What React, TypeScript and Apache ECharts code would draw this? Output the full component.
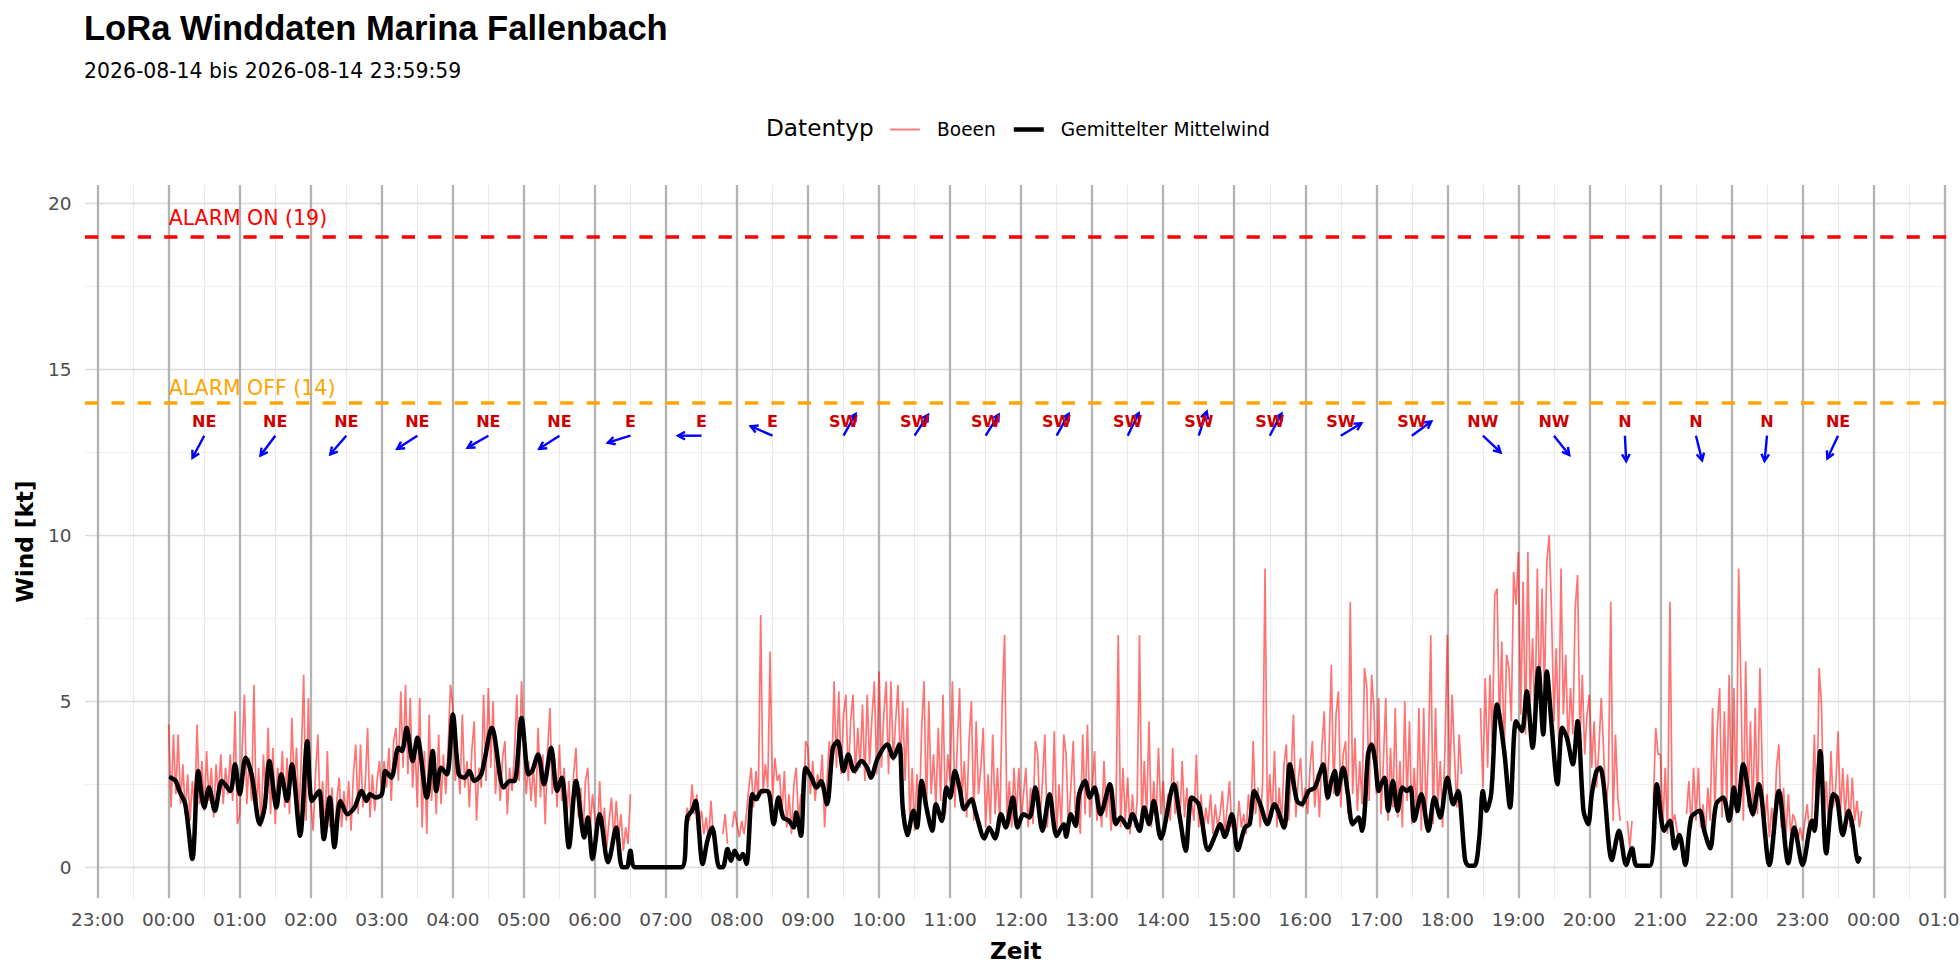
import React, { useEffect, useRef } from "react";
import * as echarts from "echarts";

const FONT = "DejaVu Sans";
const TITLE_FONT = "Liberation Sans";

const TITLE = "LoRa Winddaten Marina Fallenbach";
const SUBTITLE = "2026-08-14 bis 2026-08-14 23:59:59";
const LEGEND_TITLE = "Datentyp";
const GUST_NAME = "Boeen";
const MEAN_NAME = "Gemittelter Mittelwind";
const X_NAME = "Zeit";
const Y_NAME = "Wind [kt]";

// axis extents (minutes since 2026-08-14 00:00, knots)
const X_MIN = -70.7;
const X_MAX = 1501.6;
const Y_MIN = -0.934;
const Y_MAX = 20.551;

// x ticks (minutes) and labels
const xTickMin = [-60, 0, 60, 120, 180, 240, 300, 360, 420, 480, 540, 600, 660, 720, 780, 840, 900, 960, 1020, 1080, 1140, 1200, 1260, 1320, 1380, 1440, 1500];
const xTickLabels = ["23:00", "00:00", "01:00", "02:00", "03:00", "04:00", "05:00", "06:00", "07:00", "08:00", "09:00", "10:00", "11:00", "12:00", "13:00", "14:00", "15:00", "16:00", "17:00", "18:00", "19:00", "20:00", "21:00", "22:00", "23:00", "00:00", "01:00"];
const xMinorMin = [-30, 30, 90, 150, 210, 270, 330, 390, 450, 510, 570, 630, 690, 750, 810, 870, 930, 990, 1050, 1110, 1170, 1230, 1290, 1350, 1410, 1470];
const yTicksKt = [0, 5, 10, 15, 20];
const yMinorKt = [2.5, 7.5, 12.5, 17.5];

// alarm thresholds
const alarmLevels = [19, 14];
const alarmLabels = ["ALARM ON (19)", "ALARM OFF (14)"];
const alarmColors = ["#FF0000", "#FFA500"];
const alarmTextKt = [19.56, 14.44];
const alarmTextMin = [0, 0];

// wind direction annotations
const dirTimes = [30, 90, 150, 210, 270, 330, 390, 450, 510, 570, 630, 690, 750, 810, 870, 930, 990, 1050, 1110, 1170, 1230, 1290, 1350, 1410];
const dirLabels = ["NE", "NE", "NE", "NE", "NE", "NE", "E", "E", "E", "SW", "SW", "SW", "SW", "SW", "SW", "SW", "SW", "SW", "NW", "NW", "N", "N", "N", "NE"];
const dirFromDeg = [30, 39, 43, 59, 62, 59, 74, 90, 112, 211, 215, 214, 211, 208, 200, 210, 241, 236, 311, 319, 357, 345, 6, 27];
const DIR_LABEL_KT = 13.42;
const DIR_ARROW_KT = 13.0;

// gusts, 2-minute samples per hour
const GUST_STEP = 2;
const gust00 = [4.3, 1.8, 4.0, 2.2, 4.0, 1.9, 3.1, 1.6, 2.8, 1.4, 2.6, 1.7, 4.3, 1.9, 3.2, 1.7, 3.5, 2.0, 3.0, 1.5, 3.1, 2.1, 3.4, 1.9, 3.0, 2.2, 3.4, 2.0, 4.7, 1.3];
const gust01 = [1.6, 3.5, 5.2, 1.9, 3.3, 2.0, 5.5, 1.5, 3.0, 1.2, 3.4, 2.0, 4.2, 1.6, 3.6, 1.3, 3.0, 2.2, 3.5, 1.8, 3.3, 1.6, 4.5, 2.4, 3.6, 1.5, 3.3, 5.8, 1.4, 5.1];
const gust02 = [2.0, 1.1, 2.8, 4.0, 1.5, 2.6, 1.0, 3.5, 1.2, 2.4, 0.8, 2.0, 2.7, 1.2, 2.3, 1.4, 2.6, 1.1, 2.8, 3.7, 1.6, 3.7, 1.8, 2.5, 4.2, 1.5, 2.8, 1.7, 2.6, 3.2];
const gust03 = [2.1, 3.2, 2.4, 3.6, 2.0, 3.8, 4.2, 2.6, 5.3, 3.0, 5.5, 2.8, 5.1, 2.4, 3.8, 1.8, 5.1, 1.2, 3.5, 1.0, 4.6, 2.0, 3.4, 1.6, 4.0, 1.9, 3.4, 2.2, 3.6, 5.5];
const gust04 = [4.8, 2.6, 3.4, 2.2, 4.6, 2.4, 3.2, 1.8, 3.5, 4.4, 1.4, 3.0, 2.4, 5.2, 2.6, 5.4, 3.0, 5.0, 2.2, 3.4, 2.0, 3.3, 3.8, 1.6, 3.0, 2.3, 3.4, 5.2, 2.6, 5.6];
const gust05 = [3.6, 2.2, 3.2, 2.0, 3.0, 1.8, 4.2, 2.1, 3.4, 1.3, 3.5, 4.8, 2.2, 3.3, 1.8, 3.7, 2.0, 3.0, 1.4, 2.6, 1.2, 2.8, 3.6, 1.5, 2.4, 1.0, 2.6, 3.0, 1.2, 2.2];
const gust06 = [1.5, 0.8, 2.6, 1.0, 1.8, 0.6, 1.4, 2.1, 0.8, 2.0, 0.9, 1.6, 0.5, 1.2, 0.7, 2.2, null, null, null, null, null, null, null, null, null, null, null, null, null, null];
const gust07 = [null, null, null, null, null, null, null, null, 1.2, 1.8, 1.4, 2.5, 1.6, 2.2, 1.3, 1.7, 1.0, 1.5, 0.8, 2.0, 1.0, null, null, null, 1.0, 1.6, 0.7, null, 1.2, 1.7];
const gust08 = [1.3, 0.9, 1.4, 1.0, 1.6, 2.4, 3.0, 1.8, 2.9, 2.0, 7.6, 2.2, 3.1, 2.4, 6.5, 2.0, 3.3, 2.6, 2.8, 1.6, 2.9, 1.2, 2.2, 1.0, 2.5, 3.0, 1.4, 2.2, 1.6, 3.8];
const gust09 = [3.6, 2.2, 3.2, 2.0, 2.8, 2.4, 3.4, 1.2, 2.6, 3.8, 2.8, 5.6, 3.0, 5.3, 2.8, 4.6, 5.2, 2.6, 4.4, 5.2, 2.8, 4.2, 3.0, 4.9, 2.6, 5.2, 3.1, 4.5, 5.6, 2.8];
const gust10 = [5.9, 3.0, 4.6, 5.6, 2.8, 5.6, 3.2, 4.4, 5.5, 3.0, 5.0, 2.6, 4.8, 1.3, 3.0, 1.1, 2.8, 1.5, 4.2, 5.6, 1.6, 5.0, 2.2, 3.4, 1.8, 4.2, 2.0, 5.2, 1.6, 3.4];
const gust11 = [2.6, 5.6, 1.8, 3.6, 5.4, 2.0, 3.2, 1.5, 3.8, 5.0, 1.4, 4.4, 2.2, 3.0, 4.2, 1.2, 2.8, 1.3, 4.0, 1.6, 3.0, 1.2, 5.0, 7.0, 1.4, 2.6, 1.2, 3.0, 1.5, 3.0];
const gust12 = [1.4, 2.2, 3.0, 1.2, 2.4, 1.3, 3.8, 3.4, 1.4, 2.6, 4.0, 1.2, 2.2, 1.4, 4.1, 1.0, 2.5, 1.2, 4.0, 3.4, 1.1, 2.4, 3.8, 1.3, 2.2, 1.0, 4.0, 1.6, 4.3, 1.5];
const gust13 = [2.4, 3.5, 1.4, 2.2, 1.2, 3.2, 1.5, 2.4, 1.1, 2.0, 1.3, 7.0, 1.2, 3.0, 1.4, 2.7, 1.0, 2.2, 1.2, 2.0, 7.0, 1.3, 3.2, 1.5, 4.4, 1.2, 2.6, 1.4, 3.6, 1.6];
const gust14 = [2.6, 1.2, 2.2, 1.4, 3.6, 1.6, 2.6, 1.3, 3.2, 1.5, 2.4, 1.1, 2.0, 1.4, 3.4, 1.2, 2.2, 1.0, 1.8, 1.3, 2.2, 1.0, 1.9, 1.2, 1.6, 2.3, 1.0, 1.8, 2.6, 1.2];
const gust15 = [1.4, 1.0, 2.0, 1.2, 1.6, 1.0, 2.2, 1.4, 3.8, 1.6, 2.4, 1.2, 2.6, 9.0, 1.4, 2.8, 1.5, 3.5, 1.2, 2.4, 1.3, 3.1, 3.7, 1.4, 2.8, 4.6, 1.5, 2.6, 3.3, 1.8];
const gust16 = [2.4, 1.6, 3.0, 3.8, 1.8, 2.8, 1.5, 3.6, 4.7, 2.0, 3.4, 6.1, 2.2, 4.6, 5.3, 1.8, 3.4, 3.8, 1.6, 8.0, 2.2, 3.9, 1.7, 3.2, 1.9, 6.0, 5.4, 2.0, 5.8, 4.8];
const gust17 = [2.2, 5.1, 1.6, 3.2, 5.1, 1.4, 3.6, 1.8, 4.8, 1.5, 3.2, 1.2, 5.0, 2.0, 4.4, 1.3, 3.0, 1.5, 4.8, 1.1, 4.8, 1.6, 3.4, 7.0, 1.3, 4.8, 1.8, 3.2, 1.2, 3.6];
const gust18 = [7.0, 2.4, 5.2, 3.4, 1.8, 4.0, 2.8, null, null, null, null, null, null, null, 4.8, 2.4, 5.7, 3.0, 5.8, 3.6, 8.2, 8.4, 4.2, 6.8, 3.4, 6.4, 6.0, 4.4, 8.9, 7.9];
const gust19 = [9.5, 4.6, 8.6, 4.0, 9.5, 5.0, 6.9, 4.2, 9.0, 4.8, 8.4, 5.2, 9.2, 10.0, 7.7, 4.4, 6.6, 3.8, 9.0, 4.6, 6.4, 3.6, 5.4, 4.0, 7.8, 8.8, 3.8, 5.8, 3.4, 4.6];
const gust20 = [5.2, 3.0, 4.4, 2.4, 3.6, 5.1, 3.5, 1.8, 2.6, 8.0, 1.4, 4.0, 2.1, 1.4, null, null, 1.4, 0.6, 1.4, null, null, null, null, null, null, null, null, 2.0, 4.2, 3.4];
const gust21 = [3.4, 1.2, 3.0, 1.0, 8.0, 1.3, 1.6, 1.1, 0.8, null, null, 1.6, 2.6, 1.2, 3.0, 1.4, 3.0, 1.2, 1.9, 1.0, 2.4, 1.4, 4.8, 1.6, 4.2, 5.4, 1.5, 4.7, 1.8, 5.8];
const gust22 = [1.8, 5.4, 1.6, 9.0, 5.4, 1.4, 6.2, 1.8, 4.4, 1.5, 4.8, 1.6, 6.0, 2.9, 1.2, 2.2, 0.9, 1.8, 1.0, 3.0, 3.7, 1.2, 2.4, 0.9, 2.2, 1.0, 1.6, 1.4, 0.8, 1.2];
const gust23 = [0.8, 1.4, 1.9, 0.9, 1.6, 4.0, 1.2, 6.0, 4.9, 1.4, 2.6, 1.2, 3.5, 1.8, 2.4, 4.1, 1.6, 3.0, 1.5, 2.8, 1.2, 2.7, 1.4, 2.0, 1.2, 1.7, null, null, null, null];
const gustByHour = [gust00, gust01, gust02, gust03, gust04, gust05, gust06, gust07, gust08, gust09, gust10, gust11, gust12, gust13, gust14, gust15, gust16, gust17, gust18, gust19, gust20, gust21, gust22, gust23];

// averaged wind, [minute, kt]
const meanNight = [[2, 2.7], [6, 2.6], [9, 2.3], [14, 1.9], [20, 0.25], [25, 2.9], [30, 1.8], [34, 2.4], [39, 1.7], [45, 2.6], [52, 2.3], [56, 3.1], [60, 2.2], [65, 3.3], [70, 2.8], [77, 1.3], [81, 1.8], [85, 3.2], [91, 1.8], [95, 2.8], [100, 2.0], [104, 3.1], [111, 0.95], [117, 3.8], [121, 2.0], [127, 2.3], [131, 0.85], [136, 2.1], [140, 0.6], [145, 2.0], [151, 1.6], [157, 1.8], [163, 2.3], [167, 2.0], [170, 2.2], [175, 2.1], [180, 2.2], [183, 2.9], [188, 2.7], [194, 3.6], [197, 3.5], [201, 4.2], [206, 3.2], [210, 3.9], [218, 2.1], [223, 3.5], [226, 2.3], [230, 3.0], [235, 2.8], [240, 4.6], [245, 2.8], [250, 2.7], [254, 2.9], [258, 2.6], [264, 2.8], [273, 4.2], [283, 2.4], [288, 2.6], [292, 2.6], [298, 4.5], [304, 2.8], [307, 2.9], [312, 3.4], [317, 2.5], [323, 3.6], [328, 2.3], [332, 2.7], [338, 0.6], [344, 2.6], [351, 0.9], [354, 1.5], [358, 0.25], [364, 1.6], [371, 0.15], [373, 0.35], [378, 1.2], [383, 0], [387, 0], [390, 0.5], [394, 0], [433, 0], [438, 1.5], [442, 1.7], [445, 2.0], [451, 0.1], [455, 0.8], [459, 1.2], [465, 0], [468, 0], [472, 0.55], [475, 0.2], [478, 0.5], [482, 0.25]];
const meanDay = [[485, 0.4], [488, 0.1], [493, 2.2], [496, 2.05], [501, 2.3], [506, 2.3], [511, 1.3], [515, 2.1], [519, 1.5], [524, 1.4], [528, 1.2], [530, 1.65], [534, 0.95], [538, 3.0], [543, 2.7], [547, 2.4], [551, 2.6], [556, 1.9], [561, 3.6], [565, 3.8], [570, 2.9], [574, 3.4], [579, 2.9], [585, 3.2], [590, 3.0], [593, 2.7], [599, 3.3], [607, 3.7], [612, 3.3], [617, 3.7], [620, 1.8], [624, 0.97], [629, 1.7], [632, 1.2], [636, 2.6], [640, 1.8], [645, 1.1], [648, 1.9], [653, 1.4], [657, 2.4], [660, 2.1], [664, 2.9], [668, 2.4], [672, 1.75], [678, 2.05], [682, 1.6], [689, 0.87], [693, 1.2], [698, 0.87], [703, 1.6], [707, 1.2], [713, 2.1], [717, 1.2], [722, 1.6], [727, 1.5], [732, 2.4], [738, 1.1], [744, 2.2], [750, 0.94], [756, 1.3], [758, 0.92], [762, 1.6], [766, 1.25], [769, 2.2], [774, 2.6], [778, 2.1], [782, 2.4], [787, 1.6], [795, 2.5], [800, 1.3], [804, 1.5], [810, 1.2], [814, 1.6], [820, 1.1], [824, 1.8], [828, 1.3], [832, 2.0], [838, 0.87], [849, 2.5], [854, 1.5], [859, 0.5], [864, 2.1], [870, 1.9], [878, 0.52], [884, 0.97], [888, 1.3], [892, 0.92], [898, 1.6], [903, 0.52], [909, 1.2], [913, 1.3], [917, 2.3], [922, 1.9], [928, 1.3], [934, 1.9], [942, 1.2], [947, 3.1], [953, 2.0], [957, 1.9], [963, 2.3], [968, 2.4], [972, 2.8]];
const meanEvening = [[975, 3.1], [979, 2.1], [982, 2.6], [985, 2.9], [987, 2.2], [992, 3.0], [996, 2.2], [1000, 1.3], [1005, 1.5], [1008, 1.1], [1010, 1.6], [1013, 3.4], [1016, 3.7], [1019, 3.2], [1022, 2.3], [1024, 2.5], [1027, 2.7], [1030, 1.7], [1034, 2.6], [1038, 1.7], [1042, 2.4], [1046, 2.3], [1049, 2.4], [1052, 1.4], [1058, 2.2], [1064, 1.1], [1069, 2.1], [1074, 1.5], [1080, 2.7], [1085, 1.9], [1089, 2.3], [1095, 0.22], [1098, 0.05], [1103, 0.05], [1107, 0.9], [1110, 2.3], [1113, 1.7], [1117, 2.2], [1122, 4.9], [1128, 3.5], [1133, 1.8], [1138, 4.4], [1143, 4.1], [1147, 5.3], [1152, 3.6], [1157, 6.0], [1161, 4.0], [1164, 5.9], [1168, 4.3], [1173, 2.5], [1177, 4.2], [1181, 3.9], [1186, 3.1], [1190, 4.4], [1195, 1.7], [1199, 1.3], [1202, 2.2], [1206, 2.9], [1209, 3.0], [1212, 2.5], [1219, 0.22], [1225, 1.1], [1231, 0.07], [1236, 0.57], [1240, 0.05], [1251, 0.05], [1257, 2.5], [1263, 1.1], [1268, 1.4], [1272, 0.57], [1276, 0.97], [1281, 0.07], [1286, 1.5], [1293, 1.7], [1297, 1.1], [1302, 0.57], [1307, 1.9], [1313, 2.1], [1318, 1.4], [1322, 2.4], [1325, 1.7], [1330, 3.1], [1338, 1.6], [1343, 2.5], [1352, 0.07], [1360, 2.3], [1368, 0.12], [1373, 1.2], [1380, 0.07], [1388, 1.4], [1390, 1.1], [1395, 3.5], [1400, 0.42], [1406, 2.2], [1409, 2.1], [1414, 0.97], [1419, 1.7], [1422, 1.3], [1427, 0.17], [1428, 0.27]];

function buildOption(): any {
  const gustData: any[] = [];
  gustByHour.forEach((vals, h) => {
    vals.forEach((v, i) => gustData.push([h * 60 + i * GUST_STEP, v]));
  });
  const meanData = [...meanNight, ...meanDay, ...meanEvening];

  const gridMarks: any[] = [
    ...yMinorKt.map((v) => ({ yAxis: v, lineStyle: { color: "#f1f1f1", width: 1, type: "solid" } })),
    ...xMinorMin.map((v) => ({ xAxis: v, lineStyle: { color: "#e9e9e9", width: 1.1, type: "solid" } })),
    ...yTicksKt.map((v) => ({ yAxis: v, lineStyle: { color: "#dcdcdc", width: 1.4, type: "solid" } })),
    ...xTickMin.map((v) => ({ xAxis: v, lineStyle: { color: "#b3b3b3", width: 2.3, type: "solid" } })),
  ];
  const alarmMarks: any[] = alarmLevels.map((v, i) => ({
    yAxis: v,
    lineStyle: { color: alarmColors[i], width: 3.6, type: [13.2, 13.2] },
  }));

  return {
    animation: false,
    backgroundColor: "#ffffff",
    textStyle: { fontFamily: FONT },
    grid: { left: 85, right: 13.5, top: 185, bottom: 81.7, containLabel: false, outerBoundsMode: "none" },
    graphic: [
      {
        type: "text", x: 84, y: 27.5,
        style: { text: TITLE, fill: "#000", fontFamily: TITLE_FONT, fontWeight: "bold", fontSize: 34.6, align: "left", verticalAlign: "middle", textAlign: "left", textVerticalAlign: "middle" },
      },
      {
        type: "text", x: 84, y: 70.5,
        style: { text: SUBTITLE, fill: "#000", fontFamily: FONT, fontSize: 20.4, align: "left", verticalAlign: "middle", textAlign: "left", textVerticalAlign: "middle" },
      },
      {
        type: "text", x: 766, y: 127,
        style: { text: LEGEND_TITLE, fill: "#000", fontFamily: FONT, fontSize: 23.2, align: "left", verticalAlign: "middle", textAlign: "left", textVerticalAlign: "middle" },
      },
    ],
    legend: {
      left: 885, top: 115, padding: 5, itemWidth: 30, itemHeight: 22, itemGap: 18, selectedMode: false,
      data: [
        { name: GUST_NAME, icon: "path://M0 0H30V2H0Z" },
        { name: MEAN_NAME, icon: "path://M0 0H30V4.5H0Z" },
      ],
      textStyle: { fontFamily: FONT, fontSize: 18.6, color: "#000", padding: [0, 0, 0, 12] },
    },
    xAxis: {
      type: "value", min: X_MIN, max: X_MAX,
      axisLine: { show: false }, axisTick: { show: false }, splitLine: { show: false }, minorSplitLine: { show: false },
      axisLabel: {
        customValues: xTickMin,
        formatter: (v: number) => { const i = xTickMin.indexOf(v); return i >= 0 ? xTickLabels[i] : ""; },
        color: "#4d4d4d", fontFamily: FONT, fontSize: 18.5, margin: 12, lineHeight: 19,
      },
      name: X_NAME, nameLocation: "middle", nameGap: 40,
      nameTextStyle: { fontFamily: FONT, fontWeight: "bold", fontSize: 23.2, color: "#000", lineHeight: 24 },
    },
    yAxis: {
      type: "value", min: Y_MIN, max: Y_MAX,
      axisLine: { show: false }, axisTick: { show: false }, splitLine: { show: false },
      axisLabel: {
        customValues: yTicksKt,
        formatter: (v: number) => String(v),
        color: "#4d4d4d", fontFamily: FONT, fontSize: 18.5, margin: 13.4,
      },
      name: Y_NAME, nameLocation: "middle", nameGap: 49,
      nameTextStyle: { fontFamily: FONT, fontWeight: "bold", fontSize: 23.2, color: "#000", lineHeight: 24 },
    },
    series: [
      {
        name: "grid", type: "line", data: [], silent: true, z: 1,
        markLine: { silent: true, symbol: ["none", "none"], z: 1, label: { show: false }, emphasis: { disabled: true }, data: gridMarks, animation: false },
      },
      {
        name: "alarm", type: "line", data: [], silent: true, z: 2,
        markLine: { silent: true, symbol: ["none", "none"], z: 2, label: { show: false }, emphasis: { disabled: true }, data: alarmMarks, animation: false },
      },
      {
        name: "alarmText", type: "custom", silent: true, z: 3, clip: false,
        data: alarmTextMin.map((t, i) => [t, alarmTextKt[i]]),
        encode: { x: 0, y: 1 },
        renderItem: (params: any, api: any) => {
          const i = params.dataIndex;
          const p = api.coord([api.value(0), api.value(1)]);
          return {
            type: "text", x: p[0], y: p[1],
            style: { text: alarmLabels[i], fill: alarmColors[i], fontFamily: FONT, fontSize: 20.5, align: "left", verticalAlign: "middle", textAlign: "left", textVerticalAlign: "middle" },
          };
        },
      },
      {
        name: GUST_NAME, type: "line", data: gustData, z: 4, symbol: "none", showSymbol: false, connectNulls: false,
        color: "rgba(255,0,0,0.5)", itemStyle: { color: "rgba(255,0,0,0.5)" },
        lineStyle: { color: "rgba(255,0,0,0.55)", width: 1.7 }, emphasis: { disabled: true },
      },
      {
        name: MEAN_NAME, type: "line", data: meanData, z: 5, symbol: "none", showSymbol: false, smooth: 0.3,
        color: "#000000", itemStyle: { color: "#000000" },
        lineStyle: { color: "#000000", width: 4.5, join: "round", cap: "round" }, emphasis: { disabled: true },
      },
      {
        name: "direction", type: "custom", silent: true, z: 6, clip: false,
        data: dirTimes.map((t, i) => [t, DIR_ARROW_KT, dirFromDeg[i]]),
        encode: { x: 0, y: 1 },
        renderItem: (params: any, api: any) => {
          const i = params.dataIndex;
          const t = api.value(0);
          const from = api.value(2);
          const s = api.coord([t, DIR_ARROW_KT]);
          const l = api.coord([t, DIR_LABEL_KT]);
          const b = ((from + 180) * Math.PI) / 180;
          const ex = s[0] + 23.5 * Math.sin(b);
          const ey = s[1] - 25.5 * Math.cos(b);
          const ang = Math.atan2(ey - s[1], ex - s[0]);
          const hl = 8;
          const ha = 0.5;
          const p1 = [ex - hl * Math.cos(ang - ha), ey - hl * Math.sin(ang - ha)];
          const p2 = [ex - hl * Math.cos(ang + ha), ey - hl * Math.sin(ang + ha)];
          return {
            type: "group",
            children: [
              { type: "line", shape: { x1: s[0], y1: s[1], x2: ex, y2: ey }, style: { stroke: "#0000FF", lineWidth: 2.4 } },
              { type: "polyline", shape: { points: [p1, [ex, ey], p2] }, style: { stroke: "#0000FF", lineWidth: 2.4, fill: "none" } },
              {
                type: "text", x: l[0], y: l[1],
                style: { text: dirLabels[i], fill: "#CD0000", fontFamily: FONT, fontWeight: "bold", fontSize: 16, align: "center", verticalAlign: "middle", textAlign: "center", textVerticalAlign: "middle" },
              },
            ],
          };
        },
      },
    ],
  };
}

export default function App() {
  const ref = useRef<HTMLDivElement>(null);
  useEffect(() => {
    document.body.style.margin = "0";
    const chart = echarts.init(ref.current as HTMLDivElement, null, { renderer: "svg" });
    chart.setOption(buildOption());
    return () => chart.dispose();
  }, []);
  return <div ref={ref} style={{ width: 1960, height: 980 }} />;
}
